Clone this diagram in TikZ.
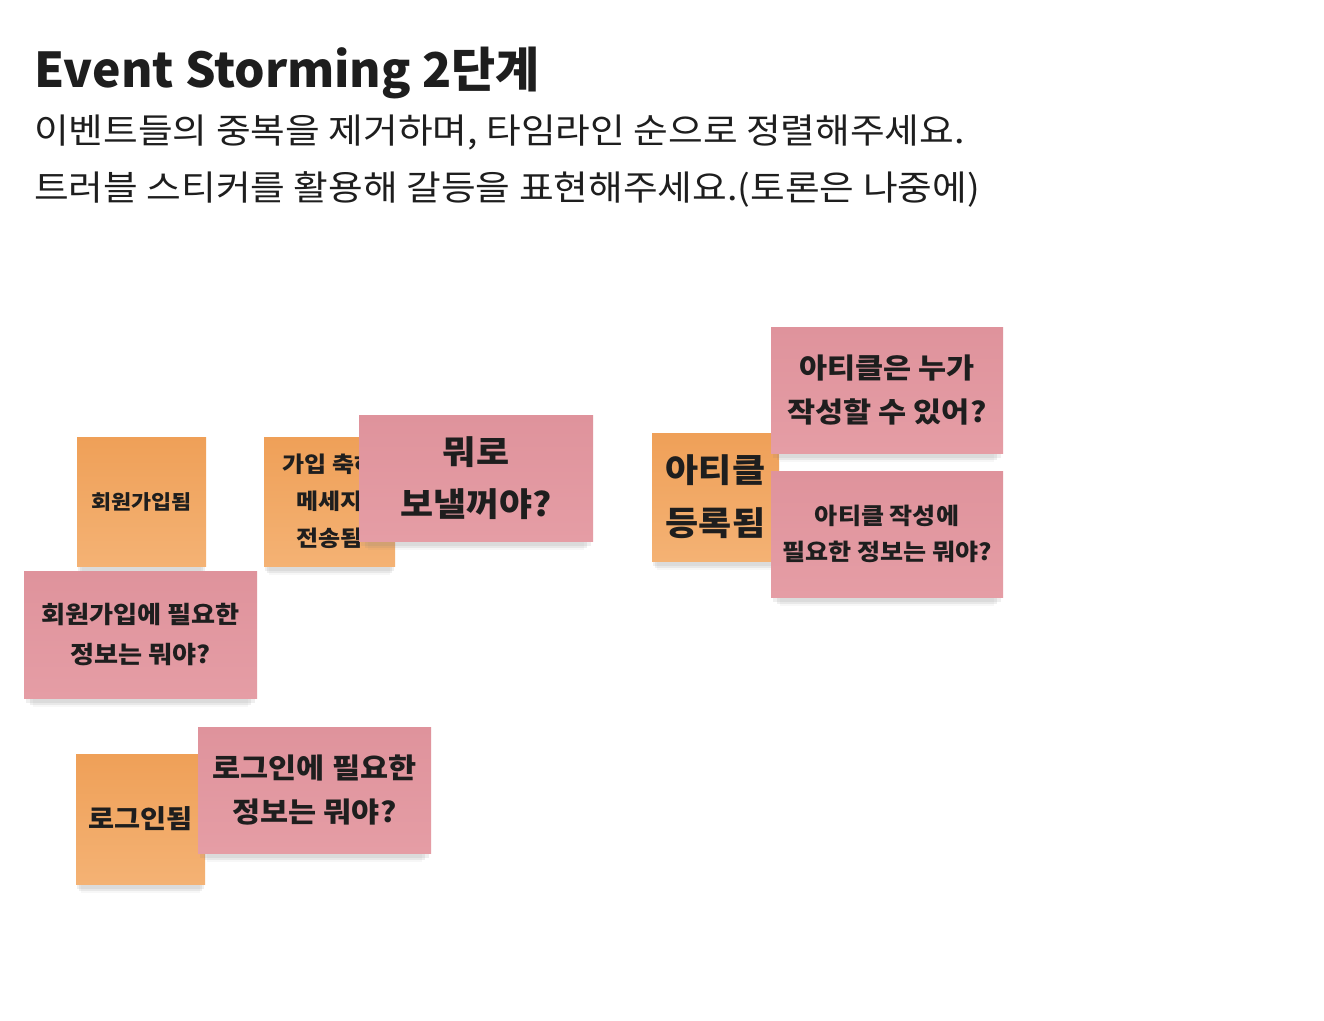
\documentclass[tikz,border=0pt]{standalone}
\usepackage{fontspec}
\setmainfont{Noto Sans CJK KR}
\newfontfamily\widekr[FakeStretch=1.09]{Noto Sans CJK KR}
\usetikzlibrary{shadows}
\definecolor{evtTop}{HTML}{EFA058}
\definecolor{evtBot}{HTML}{F4B274}
\definecolor{hotTop}{HTML}{DF939C}
\definecolor{hotBot}{HTML}{E59DA5}
\definecolor{ink}{HTML}{1E1E1E}
\begin{document}
\begin{tikzpicture}[x=1pt,y=-1pt,
    every node/.style={text=ink,align=center,inner sep=0pt},
    fs/.style 2 args={font=\widekr\bfseries\fontsize{#1}{#2}\selectfont},
    sticky/.style={
        drop shadow={shadow xshift=0pt,shadow yshift=-6pt,opacity=.12,shadow scale=.98},
        drop shadow={shadow xshift=0pt,shadow yshift=-11pt,opacity=.12,shadow scale=.95},
        drop shadow={shadow xshift=0pt,shadow yshift=-15pt,opacity=.06,shadow scale=.92}},
    event/.style={sticky,top color=evtTop,bottom color=evtBot,
        minimum width=129pt,minimum height=129pt},
    hotspot/.style={sticky,top color=hotTop,bottom color=hotBot,
        minimum width=233pt,minimum height=126pt}]
    \fill[white] (0,0) rectangle (1324,1020);
    \useasboundingbox (0,0) rectangle (1324,1020);
    % heading
    \node[anchor=base west,font=\bfseries\fontsize{48}{58}\selectfont] (title)
        at (34,87) {Event Storming 2단계};
    \node[anchor=base west,font=\widekr\fontsize{34.6}{40}\selectfont] (line1) at (34,143)
        {이벤트들의 중복을 제거하며, 타임라인 순으로 정렬해주세요.};
    \node[anchor=base west,font=\widekr\fontsize{34.6}{40}\selectfont] (line2) at (34,200)
        {트러블 스티커를 활용해 갈등을 표현해주세요.(토론은 나중에)};
    % sign up
    \node[event,fs={20}{37}] (joined) at (141.5,501.5) {회원가입됨};
    \node[event,fs={22}{37},minimum width=131pt] (welcome) at (329.5,501.5)
        {가입 축하\\메세지\\전송됨};
    \node[hotspot,fs={33}{52},minimum width=234pt] (howSend) at (476,478)
        {뭐로\\보낼꺼야?};
    \node[hotspot,fs={24}{40},minimum height=127pt] (joinInfo) at (140.5,634.5)
        {회원가입에 필요한\\정보는 뭐야?};
    % login
    \node[event,fs={26}{40},minimum height=130pt] (loggedIn) at (140.5,819)
        {로그인됨};
    \node[hotspot,fs={28}{44}] (loginInfo) at (314.5,790)
        {로그인에 필요한\\정보는 뭐야?};
    % article
    \node[event,fs={33}{53},minimum width=127pt,minimum height=128pt] (posted)
        at (715.5,497) {아티클\\등록됨};
    \node[hotspot,fs={28}{44},minimum width=232pt] (whoWrites) at (887,390)
        {아티클은 누가\\작성할 수 있어?};
    \node[hotspot,fs={23}{36},minimum width=232pt] (postInfo) at (887,534)
        {아티클 작성에\\필요한 정보는 뭐야?};
\end{tikzpicture}
\end{document}
